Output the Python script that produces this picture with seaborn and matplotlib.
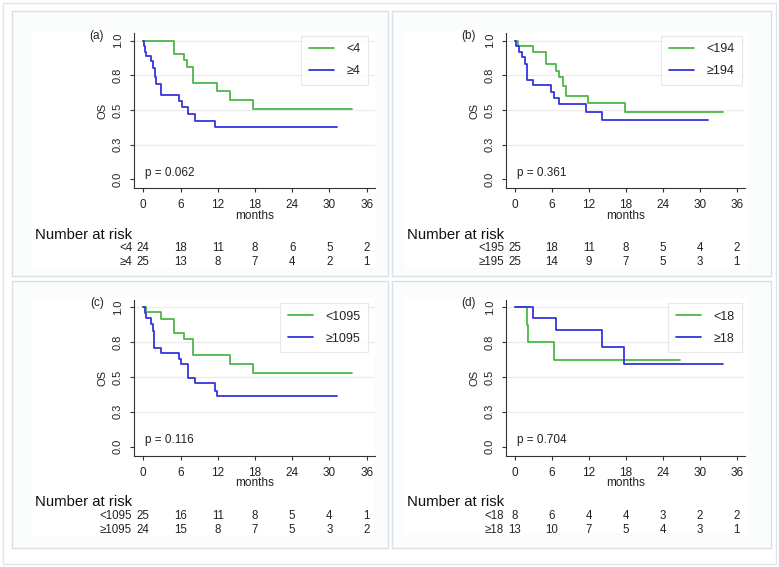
import matplotlib
matplotlib.use('Agg')
import pandas as pd
import matplotlib.pyplot as plt
import seaborn as sns
from matplotlib.patches import Rectangle

# 各子图的文字
panel_tags = ['(a)', '(b)', '(c)', '(d)']
p_values = ['p = 0.062', 'p = 0.361', 'p = 0.116', 'p = 0.704']
low_labels = ['<4', '<194', '<1095', '<18']
high_labels = ['≥4', '≥194', '≥1095', '≥18']
risk_low_labels = ['<4', '<195', '<1095', '<18']
risk_high_labels = ['≥4', '≥195', '≥1095', '≥18']

# 风险人数表
risk_times = [0, 6, 12, 18, 24, 30, 36]
risk_low = [[24, 18, 11, 8, 6, 5, 2],
            [25, 18, 11, 8, 5, 4, 2],
            [25, 16, 11, 8, 5, 4, 1],
            [8, 6, 4, 4, 3, 2, 2]]
risk_high = [[25, 13, 8, 7, 4, 2, 1],
             [25, 14, 9, 7, 5, 3, 1],
             [24, 15, 8, 7, 5, 3, 2],
             [13, 10, 7, 5, 4, 3, 1]]

# 生存曲线：事件时间 / 生存率 / 随访结束时间
low_times = [[5.0, 6.6, 7.1, 8.0, 11.8, 13.9, 17.7],
             [0.5, 2.9, 5.0, 6.7, 7.2, 7.8, 8.3, 11.9, 17.8],
             [0.5, 2.9, 4.9, 6.6, 8.0, 13.9, 17.7],
             [1.9, 2.05, 6.4]]
low_surv = [[0.904, 0.858, 0.812, 0.697, 0.637, 0.574, 0.509],
            [0.965, 0.92, 0.83, 0.78, 0.74, 0.67, 0.60, 0.55, 0.485],
            [0.963, 0.916, 0.816, 0.77, 0.66, 0.59, 0.525],
            [0.875, 0.75, 0.625]]
low_end = [33.6, 33.8, 33.6, 26.8]

high_times = [[0.15, 0.35, 0.5, 1.2, 1.6, 1.85, 2.0, 2.9, 5.7, 6.2, 7.2, 8.4, 11.5],
              [0.2, 0.6, 1.1, 1.6, 1.95, 3.0, 5.9, 6.4, 7.2, 11.5, 14.2],
              [0.3, 0.5, 1.2, 1.5, 1.8, 2.9, 5.7, 6.1, 7.2, 8.4, 11.5, 11.8],
              [3.0, 6.7, 14.2, 17.7]]
high_surv = [[0.96, 0.92, 0.89, 0.85, 0.80, 0.74, 0.69, 0.61, 0.565, 0.52, 0.47, 0.42, 0.375],
             [0.96, 0.92, 0.88, 0.83, 0.72, 0.68, 0.63, 0.59, 0.545, 0.485, 0.425],
             [0.96, 0.92, 0.88, 0.83, 0.71, 0.67, 0.63, 0.59, 0.495, 0.455, 0.40, 0.36],
             [0.923, 0.835, 0.715, 0.595]]
high_end = [31.2, 31.4, 31.2, 33.8]

y_ticks = [0, 0.25, 0.5, 0.75, 1.0]
y_ticklabels = ['0.0', '0.3', '0.5', '0.8', '1.0']

green = '#4cb848'
blue = '#3535dd'

sns.set_theme(style='white')
plt.rcParams['font.family'] = ['Liberation Sans', 'DejaVu Sans']

W, H = 779, 567
fig = plt.figure(figsize=(W / 100, H / 100), dpi=100)


def px_rect(x0, y0, x1, y1):
    return (x0 / W, 1 - y1 / H, (x1 - x0) / W, (y1 - y0) / H)


# 外框
fig.patches.append(Rectangle((3 / W, 1 - 564 / H), 773 / W, 561 / H, transform=fig.transFigure,
                             fill=False, edgecolor='#dfe7ec', lw=1.0, zorder=-20))

# 每个子图的位置（像素）
outer_boxes = [(12, 11, 388, 276), (392, 11, 771, 276), (12, 281, 388, 548), (392, 281, 771, 548)]
inner_boxes = [(31.7, 31.7, 375, 268), (405, 31.7, 746.7, 268),
               (31.7, 298.3, 374, 535), (405, 298.3, 746.7, 533)]
origins = [(143.3, 40.7, 6.205, 138.6), (515, 40.7, 6.16, 138.6),
           (143.3, 307.3, 6.205, 139.3), (515, 307.3, 6.16, 139.3)]
legend_corner = [(368, 36), (742, 36), (368, 303), (742, 303)]

xmin, xmax = -1.5, 37.3
ymin, ymax = -0.065, 1.055

for i in range(4):
    ob = outer_boxes[i]
    fig.patches.append(Rectangle((ob[0] / W, 1 - ob[3] / H), (ob[2] - ob[0]) / W, (ob[3] - ob[1]) / H,
                                 transform=fig.transFigure, facecolor='#fbfcfc', edgecolor='#d8e0e5',
                                 lw=1.0, zorder=-20))
    ib = inner_boxes[i]
    fig.patches.append(Rectangle((ib[0] / W, 1 - ib[3] / H), (ib[2] - ib[0]) / W, (ib[3] - ib[1]) / H,
                                 transform=fig.transFigure, facecolor='white', edgecolor='none',
                                 zorder=-19))

    x0, ytop, ppm, ppu = origins[i]
    left = x0 + xmin * ppm
    right = x0 + xmax * ppm
    top = ytop - (ymax - 1) * ppu
    bottom = ytop + (1 - ymin) * ppu
    ax = fig.add_axes(px_rect(left, top, right, bottom))
    ax.patch.set_alpha(0)

    # 曲线数据
    rows = []
    for lab, t, s, end in [(low_labels[i], low_times[i], low_surv[i], low_end[i]),
                           (high_labels[i], high_times[i], high_surv[i], high_end[i])]:
        xs = [0] + list(t) + [end]
        ys = [1.0] + list(s) + [s[-1]]
        for xx, yy in zip(xs, ys):
            rows.append({'months': xx, 'OS': yy, 'group': lab})
    df = pd.DataFrame(rows)

    for yy in y_ticks[1:]:
        ax.axhline(yy, color='#ececec', lw=0.9, zorder=0)

    sns.lineplot(data=df, x='months', y='OS', hue='group', ax=ax,
                 palette={low_labels[i]: green, high_labels[i]: blue},
                 drawstyle='steps-post', estimator=None, sort=False, lw=1.3)

    ax.set_xlim(xmin, xmax)
    ax.set_ylim(ymin, ymax)
    ax.set_xticks(risk_times)
    ax.set_yticks(y_ticks)
    ax.set_yticklabels(y_ticklabels, rotation=90, va='center')
    ax.tick_params(axis='both', length=3, width=0.8, color='#333333', pad=5,
                   labelcolor='#222222', bottom=True, left=True)
    ax.tick_params(axis='x', labelsize=8.5)
    ax.tick_params(axis='y', labelsize=8)
    for side in ['top', 'right']:
        ax.spines[side].set_visible(False)
    for side in ['left', 'bottom']:
        ax.spines[side].set_color('#333333')
        ax.spines[side].set_linewidth(0.8)

    ax.set_xlabel('')
    ax.set_ylabel('OS', fontsize=8, color='#222222')
    ax.yaxis.set_label_coords(-0.111, 0.5)
    ax.text(18, -0.178, 'months', transform=ax.get_xaxis_transform(), ha='center', va='center',
            fontsize=8.5, color='#222222')
    ax.text(-0.154, 0.981, panel_tags[i], transform=ax.transAxes, ha='center', va='center',
            fontsize=8.5, color='#222222')
    ax.text(0.3, 0.045, p_values[i], ha='left', va='center', fontsize=8.5, color='#222222')

    # 图例
    lx, ly = legend_corner[i]
    leg = ax.legend(loc='upper right', bbox_to_anchor=(lx / W, 1 - ly / H), bbox_transform=fig.transFigure,
                    borderaxespad=0, frameon=True, fancybox=False, fontsize=9, handlelength=2.0,
                    handletextpad=1.0, borderpad=0.6, labelspacing=0.8, title=None)
    leg.get_frame().set_edgecolor('#e3e3e3')
    leg.get_frame().set_linewidth(0.8)
    for txt in leg.get_texts():
        txt.set_color('#222222')

    # 风险人数
    trans = ax.get_xaxis_transform()
    ax.text(-17.5, -0.30, 'Number at risk', transform=trans, ha='left', va='center',
            fontsize=10.7, color='#111111', clip_on=False)
    for lab, nums, yy in [(risk_low_labels[i], risk_low[i], -0.385), (risk_high_labels[i], risk_high[i], -0.475)]:
        ax.text(-1.8, yy, lab, transform=trans, ha='right', va='center', fontsize=8.3,
                color='#222222', clip_on=False)
        for tt, n in zip(risk_times, nums):
            ax.text(tt, yy, str(n), transform=trans, ha='center', va='center', fontsize=8.3,
                    color='#222222', clip_on=False)

fig.savefig('out.png', dpi=100)
